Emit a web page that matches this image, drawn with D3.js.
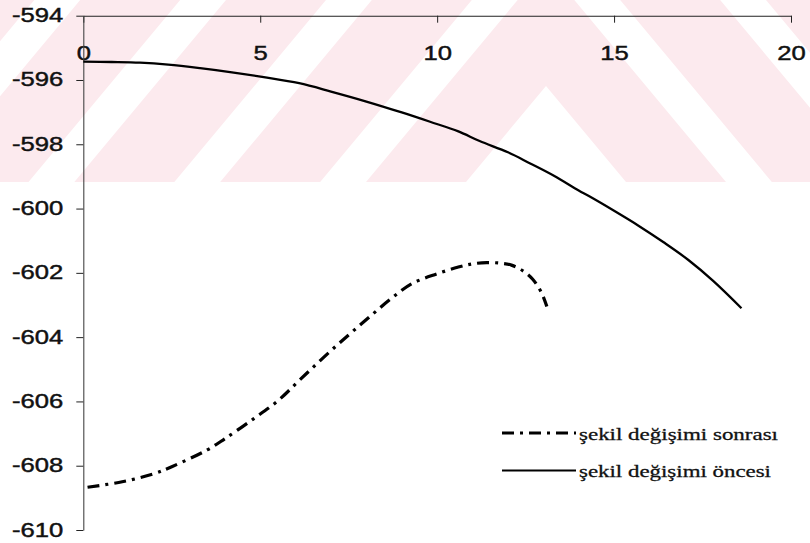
<!DOCTYPE html>
<html>
<head>
<meta charset="utf-8">
<script src="https://cdn.jsdelivr.net/npm/d3@7"></script>
<style>
  html, body { margin: 0; padding: 0; background: #fff; }
  svg { display: block; }
  .tick text { font-family: "Liberation Sans", Arial, sans-serif; fill: #111; stroke: #111; stroke-width: 0.45; }
</style>
</head>
<body>
<svg id="chart" width="810" height="543"></svg>
<script>
// Energy along the path, before and after the shape change
const xTicks = [0, 5, 10, 15, 20];
const yTicks = [-594, -596, -598, -600, -602, -604, -606, -608, -610];

const beforeX = [0, 0.8, 1.6, 2.4, 3.3, 4.2, 5.1, 6.1, 7.0, 8.0, 9.0, 9.8, 10.6, 11.2, 12.0, 12.6, 13.3, 14.0, 14.3, 15.0, 15.7, 16.4, 17.1, 17.8, 18.6];
const beforeY = [-595.43, -595.44, -595.46, -595.52, -595.63, -595.76, -595.91, -596.10, -596.36, -596.67, -597.01, -597.30, -597.60, -597.90, -598.25, -598.58, -598.98, -599.44, -599.62, -600.07, -600.54, -601.05, -601.60, -602.25, -603.10];

const afterX = [0.12, 1.1, 2.0, 2.5, 3.5, 4.0, 4.8, 5.5, 6.1, 6.8, 7.5, 8.1, 8.7, 9.3, 10.0, 10.6, 11.0, 11.4, 11.8, 12.1, 12.4, 12.7, 12.95, 13.1];
const afterY = [-608.67, -608.50, -608.25, -608.03, -607.51, -607.16, -606.55, -605.98, -605.35, -604.62, -603.93, -603.36, -602.80, -602.33, -602.03, -601.82, -601.72, -601.68, -601.70, -601.76, -601.92, -602.20, -602.62, -603.05];

const seriesNames = ["şekil değişimi sonrası", "şekil değişimi öncesi"];

const svg = d3.select("#chart");
const W = 810;

// faint chevron background band
const band = { top: 0, bottom: 182, apexX: 546, slope: 1.2 };
const whiteBands = [[86, 3000], [-89, -34], [-264, -209], [-439, -384], [-614, -559], [-789, -734]];
svg.append("defs").append("clipPath").attr("id", "bandClip")
  .append("rect").attr("x", 0).attr("y", band.top).attr("width", W).attr("height", band.bottom - band.top);
const bg = svg.append("g").attr("clip-path", "url(#bandClip)");
bg.append("rect").attr("x", 0).attr("y", band.top).attr("width", W).attr("height", band.bottom - band.top)
  .attr("fill", "#fceaee");
const L = 1500;
whiteBands.forEach(([e1, e2]) => {
  const yAt = (e, xx) => e + band.slope * Math.abs(xx - band.apexX);
  const pts = [
    [-L, yAt(e1, -L)], [band.apexX, e1], [W + L, yAt(e1, W + L)],
    [W + L, yAt(e2, W + L)], [band.apexX, e2], [-L, yAt(e2, -L)]
  ];
  bg.append("polygon").attr("points", pts.map(p => p.join(",")).join(" ")).attr("fill", "#fff");
});

const x = d3.scaleLinear().domain([0, 20]).range([83.3, 791]);
const y = d3.scaleLinear().domain([-594, -610]).range([15.7, 530]);
const fmt = d => String(d);

const sx = 1.25; // label width factor
// top axis (ticks hang down, labels below)
const gx = svg.append("g").attr("transform", `translate(0,${y(-594)})`)
  .call(d3.axisBottom(x).tickValues(xTicks).tickSize(7).tickSizeOuter(0).tickFormat(fmt));
gx.select(".domain").attr("stroke", "#222").attr("stroke-width", 1.1);
gx.selectAll(".tick line").attr("stroke", "#222");
gx.selectAll(".tick text")
  .attr("font-size", 20.5).attr("y", 0).attr("dy", 0)
  .attr("transform", `translate(0,44) scale(${sx},1)`);

const gy = svg.append("g").attr("transform", `translate(${x(0)},0)`)
  .call(d3.axisLeft(y).tickValues(yTicks).tickSize(7).tickSizeOuter(0).tickFormat(fmt));
gy.select(".domain").attr("stroke", "#444").attr("stroke-width", 1.1);
gy.selectAll(".tick line").attr("stroke", "#222");
gy.selectAll(".tick text")
  .attr("font-size", 20.5).attr("x", 0).attr("dy", 0).attr("text-anchor", "end")
  .attr("transform", `translate(-20,6) scale(${sx},1)`);

const line = d3.line().x(d => x(d[0])).y(d => y(d[1])).curve(d3.curveCatmullRom.alpha(0.5));
const before = beforeX.map((v, i) => [v, beforeY[i]]);
const after = afterX.map((v, i) => [v, afterY[i]]);

const dashDot = "12,6,3,6";
svg.append("path").datum(before).attr("d", line)
  .attr("fill", "none").attr("stroke", "#000").attr("stroke-width", 2.3);
svg.append("path").datum(after).attr("d", line)
  .attr("fill", "none").attr("stroke", "#000").attr("stroke-width", 3.2).attr("stroke-dasharray", dashDot);

// legend
const leg = svg.append("g");
const rows = [
  { name: seriesNames[0], dash: dashDot, w: 3, ly: 433, ty: 440, len: 199 },
  { name: seriesNames[1], dash: null, w: 2, ly: 470.5, ty: 477, len: 192 }
];
rows.forEach(r => {
  leg.append("line").attr("x1", 502).attr("x2", 576).attr("y1", r.ly).attr("y2", r.ly)
    .attr("stroke", "#000").attr("stroke-width", r.w).attr("stroke-dasharray", r.dash);
  leg.append("text").attr("x", 579).attr("y", r.ty)
    .attr("font-family", "'Liberation Serif', 'Times New Roman', serif").attr("font-size", 17.5)
    .attr("fill", "#111").attr("stroke", "#111").attr("stroke-width", 0.3)
    .attr("textLength", r.len).attr("lengthAdjust", "spacingAndGlyphs")
    .text(r.name);
});
</script>
</body>
</html>
